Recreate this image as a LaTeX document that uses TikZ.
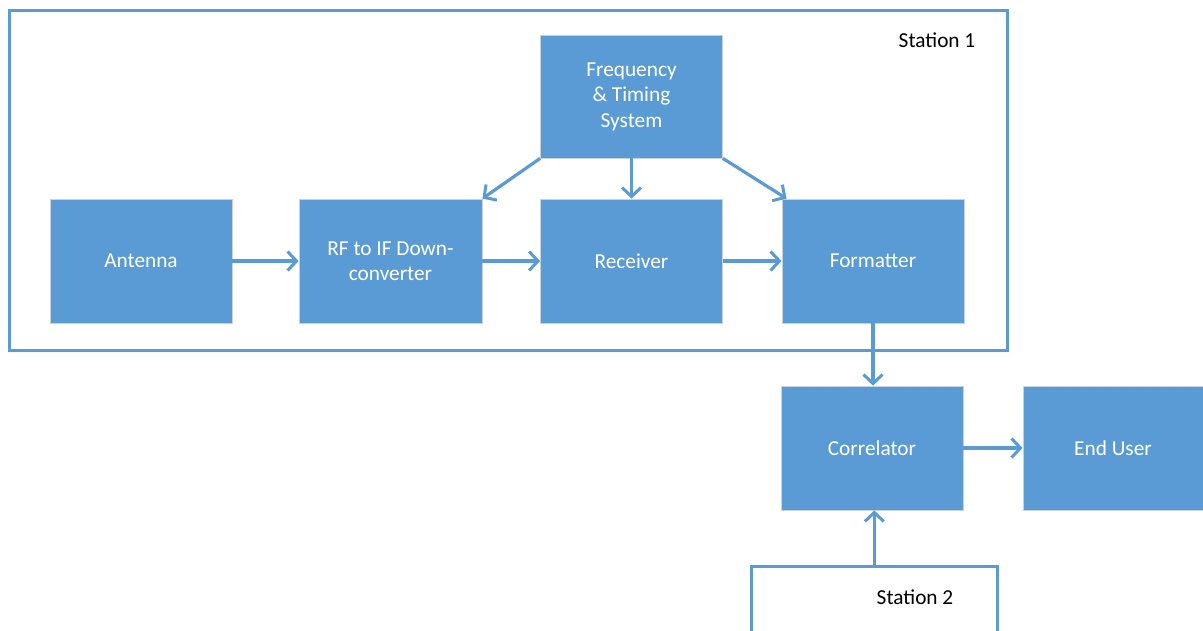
\documentclass[tikz,border=0pt]{standalone}
\usepackage{fontspec}
\setmainfont{Carlito}
\usetikzlibrary{arrows.meta,positioning}
\definecolor{blu}{HTML}{5B9BD5}
\definecolor{edg}{HTML}{C9D3DD}
\tikzset{
  box/.style={draw=edg,line width=0.8pt,fill=blu,text=white,align=center,
    minimum width=182pt,minimum height=124pt,inner sep=2pt,
    font=\fontsize{21.3}{25.5}\selectfont},
  frame/.style={draw=blu,line width=2.6pt,fill=none},
  lbl/.style={text=black,font=\fontsize{21.3}{25}\selectfont},
  ar/.style={-{Straight Barb[length=9pt,width=19pt,line width=3pt]},line width=3.2pt,draw=blu},
}

\begin{document}
\begin{tikzpicture}[x=1pt,y=-1pt]
\useasboundingbox (0,0) rectangle (1203,630);
% station frames
\node[frame,anchor=north west,minimum width=998pt,minimum height=340pt] (st1) at (8,9) {};
\node[lbl] (st1lbl) at (937,40) {Station 1};
\node[frame,anchor=north west,minimum width=246pt,minimum height=90pt] (st2) at (750,565) {};
\node[lbl] (st2lbl) at (915,597) {Station 2};
% blocks
\node[box,minimum height=123pt] (freq) at (631.5,96.5) {Frequency\\\& Timing\\System};
\node[box] (ant) at (141,261) {Antenna};
\node[box,minimum width=183pt] (rf) at (390.5,261) {RF to IF Down-\\converter};
\node[box] (rcv) at (631.5,261) {Receiver};
\node[box] (fmt) at (873,261) {Formatter};
\node[box] (cor) at (872,448) {Correlator};
\node[box,minimum width=180pt] (usr) at (1113,448) {End User};
% signal flow
\draw[ar] (ant) -- (rf);
\draw[ar] (rf) -- (rcv);
\draw[ar] (rcv) -- (fmt);
\draw[ar] (freq.south west) -- (rf.north east);
\draw[ar] (freq.south) -- (rcv.north);
\draw[ar] (freq.south east) -- ([xshift=5pt]fmt.north west);
\draw[ar] (fmt.south) -- (cor.north -| fmt.south);
\draw[ar] (cor) -- (usr);
\draw[ar] (st2.north) -- (st2.north |- cor.south);
\end{tikzpicture}
\end{document}
